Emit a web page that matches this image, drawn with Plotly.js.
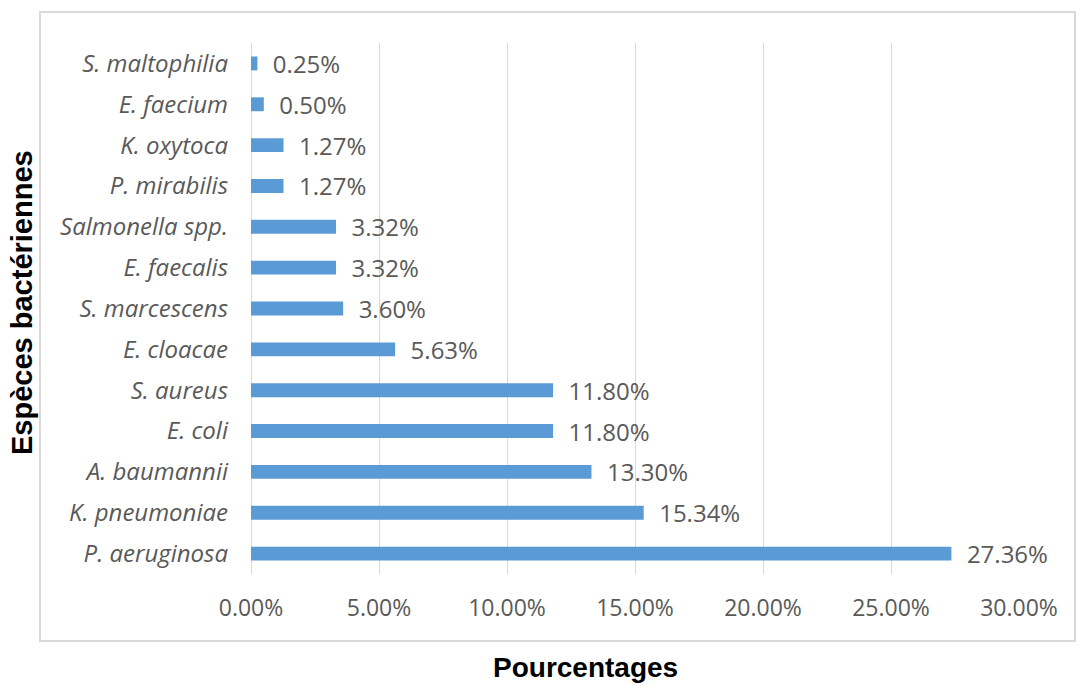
<!DOCTYPE html>
<html>
<head>
<meta charset="utf-8">
<script src="https://cdn.plot.ly/plotly-3.0.1.min.js"></script>
<style>html,body{margin:0;padding:0;background:#fff;}#chart{width:1076px;height:685px;}</style>
</head>
<body>
<div id="chart"></div>
<script>
const species = ["P. aeruginosa","K. pneumoniae","A. baumannii","E. coli","S. aureus","E. cloacae","S. marcescens","E. faecalis","Salmonella spp.","P. mirabilis","K. oxytoca","E. faecium","S. maltophilia"];
const percentages = [27.36,15.34,13.30,11.80,11.80,5.63,3.60,3.32,3.32,1.27,1.27,0.50,0.25];
const xTickValues = [0,5,10,15,20,25,30];
const xTickLabels = ["0.00%","5.00%","10.00%","15.00%","20.00%","25.00%","30.00%"];
const xTitle = "Pourcentages";
const yTitle = "Espèces bactériennes";

const fam = "'Open Sans', Lato, sans-serif";
const W = 1076, H = 685;
const L = 251, R = 57, T = 43, B = 111;
const pw = W - L - R, ph = H - T - B;
const px = v => (v - L) / pw;
const py = v => (H - B - v) / ph;

const trace = {
  type: "bar",
  orientation: "h",
  y: species,
  x: percentages,
  marker: {color: "#5b9bd5"},
  text: percentages.map(v => "\u00a0\u00a0" + v.toFixed(2) + "%"),
  textposition: "outside",
  constraintext: "none",
  cliponaxis: false,
  textfont: {family: fam, size: 24, color: "#595959"},
  hoverinfo: "skip"
};

const layout = {
  width: W, height: H,
  margin: {l: L, r: R, t: T, b: B},
  paper_bgcolor: "#fff",
  plot_bgcolor: "#fff",
  bargap: 0.66,
  showlegend: false,
  xaxis: {
    range: [0, 30],
    tickvals: xTickValues,
    ticktext: xTickLabels,
    showgrid: true,
    gridcolor: "#d9d9d9",
    gridwidth: 1,
    zeroline: true,
    zerolinecolor: "#d9d9d9",
    showline: false,
    ticks: "",
    tickfont: {family: fam, size: 23, color: "#595959"},
    ticklabelstandoff: 18,
    fixedrange: true
  },
  yaxis: {
    type: "category",
    categoryorder: "array",
    categoryarray: species,
    showline: false,
    showgrid: false,
    ticks: "",
    tickfont: {family: fam, size: 24, color: "#595959", style: "italic"},
    ticklabelstandoff: 22,
    fixedrange: true
  },
  shapes: [{
    type: "rect", xref: "paper", yref: "paper",
    x0: px(40), x1: px(1075), y0: py(641), y1: py(12),
    line: {color: "#d9d9d9", width: 2}, fillcolor: "rgba(0,0,0,0)", layer: "below"
  }],
  annotations: [
    {text: "<b>" + xTitle + "</b>", xref: "paper", yref: "paper", x: px(585), y: py(667),
     showarrow: false, xanchor: "center", yanchor: "middle",
     font: {family: "'Liberation Sans', Arial, sans-serif", size: 28, color: "#000"}},
    {text: "<b>" + yTitle + "</b>", xref: "paper", yref: "paper", x: px(22), y: py(303),
     showarrow: false, xanchor: "center", yanchor: "middle", textangle: -90,
     font: {family: "'Liberation Sans', Arial, sans-serif", size: 29, color: "#000"}}
  ]
};

Plotly.newPlot("chart", [trace], layout, {displayModeBar: false, staticPlot: true});
</script>
</body>
</html>
